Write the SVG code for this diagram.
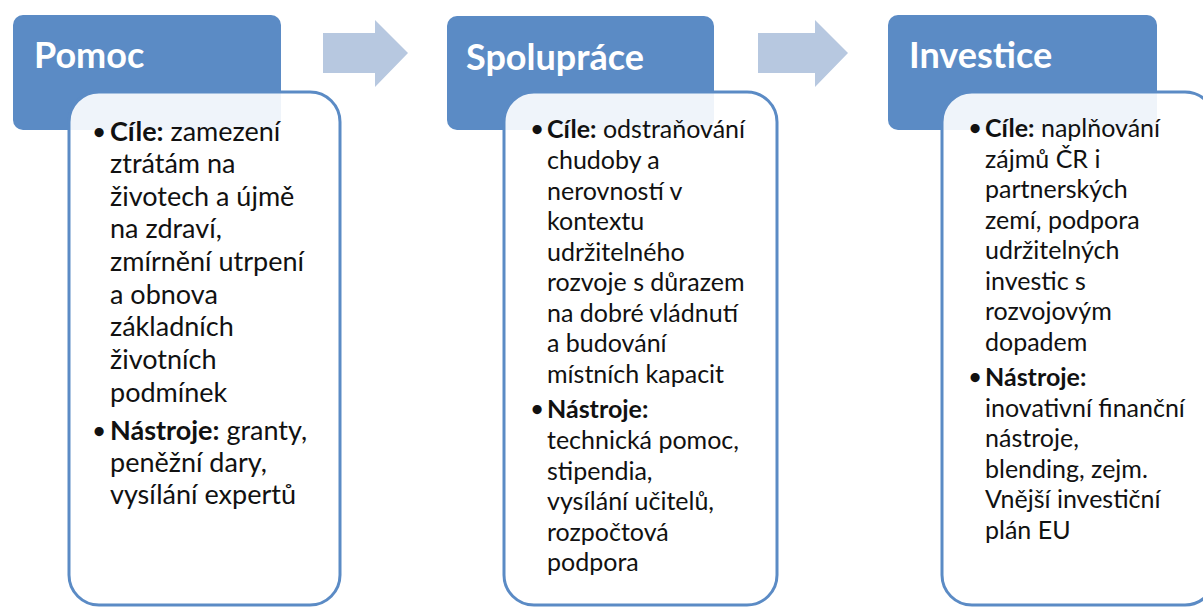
<svg xmlns="http://www.w3.org/2000/svg" width="1203" height="607" viewBox="0 0 1203 607">
<style>
.hdr{fill:#5b8bc5;}
.box{fill:#ffffff;fill-opacity:0.9;stroke:#5b8bc5;stroke-width:3;}
.arr{fill:#b7c8e0;}
.ttl{font-family:Lato,"Open Sans",sans-serif;font-weight:bold;font-size:36px;fill:#ffffff;}
.t1{font-family:Lato,"Open Sans",sans-serif;font-size:27px;fill:#111111;}
.t2{font-family:Lato,"Open Sans",sans-serif;font-size:25px;fill:#111111;}
.b{font-weight:bold;}
.bu{font-size:21px;}
</style>
<rect width="1203" height="607" fill="#ffffff"/>
<g id="connectors">
<path class="arr" d="M323,33 H375 V20 L408,53 L375,87 V73 H323 Z"/>
<path class="arr" d="M758,33 H815 V20 L848,53 L815,87 V73 H758 Z"/>
</g>
<g id="pomoc">
<rect class="hdr" x="13" y="15" width="268" height="115" rx="10"/>
<rect class="box" x="69" y="92" width="271" height="513" rx="30"/>
<text class="ttl" x="34" y="68">Pomoc</text>
<g class="t1">
<text x="93" y="139" class="b bu">•</text>
<text x="110" y="141"><tspan class="b">Cíle:</tspan> zamezení</text>
<text x="110" y="173">ztrátám na</text>
<text x="110" y="206">životech a újmě</text>
<text x="110" y="238">na zdraví,</text>
<text x="110" y="271">zmírnění utrpení</text>
<text x="110" y="304">a obnova</text>
<text x="110" y="336">základních</text>
<text x="110" y="369">životních</text>
<text x="110" y="402">podmínek</text>
<text x="93" y="438" class="b bu">•</text>
<text x="110" y="440"><tspan class="b">Nástroje:</tspan> granty,</text>
<text x="110" y="472">peněžní dary,</text>
<text x="110" y="504">vysílání expertů</text>
</g>
</g>
<g id="spoluprace">
<rect class="hdr" x="447" y="16" width="267" height="114" rx="10"/>
<rect class="box" x="504" y="92" width="273" height="513" rx="30"/>
<text class="ttl" x="466" y="70">Spolupráce</text>
<g class="t2">
<text x="531" y="136" class="b bu">•</text>
<text x="547" y="138"><tspan class="b">Cíle:</tspan> odstraňování</text>
<text x="547" y="169">chudoby a</text>
<text x="547" y="200">nerovností v</text>
<text x="547" y="230">kontextu</text>
<text x="547" y="261">udržitelného</text>
<text x="547" y="291">rozvoje s důrazem</text>
<text x="547" y="322">na dobré vládnutí</text>
<text x="547" y="352">a budování</text>
<text x="547" y="383">místních kapacit</text>
<text x="531" y="416" class="b bu">•</text>
<text x="547" y="418" class="b">Nástroje:</text>
<text x="547" y="449">technická pomoc,</text>
<text x="547" y="480">stipendia,</text>
<text x="547" y="510">vysílání učitelů,</text>
<text x="547" y="541">rozpočtová</text>
<text x="547" y="571">podpora</text>
</g>
</g>
<g id="investice">
<rect class="hdr" x="888" y="15" width="269" height="115" rx="10"/>
<rect class="box" x="942" y="92" width="273" height="513" rx="30"/>
<text class="ttl" x="909" y="68">Investice</text>
<g class="t2">
<text x="969" y="135" class="b bu">•</text>
<text x="985" y="137"><tspan class="b">Cíle:</tspan> naplňování</text>
<text x="985" y="168">zájmů ČR i</text>
<text x="985" y="198">partnerských</text>
<text x="985" y="229">zemí, podpora</text>
<text x="985" y="259">udržitelných</text>
<text x="985" y="290">investic s</text>
<text x="985" y="320">rozvojovým</text>
<text x="985" y="351">dopadem</text>
<text x="969" y="384" class="b bu">•</text>
<text x="985" y="386" class="b">Nástroje:</text>
<text x="985" y="417">inovativní finanční</text>
<text x="985" y="447">nástroje,</text>
<text x="985" y="478">blending, zejm.</text>
<text x="985" y="508">Vnější investiční</text>
<text x="985" y="539">plán EU</text>
</g>
</g>
</svg>
